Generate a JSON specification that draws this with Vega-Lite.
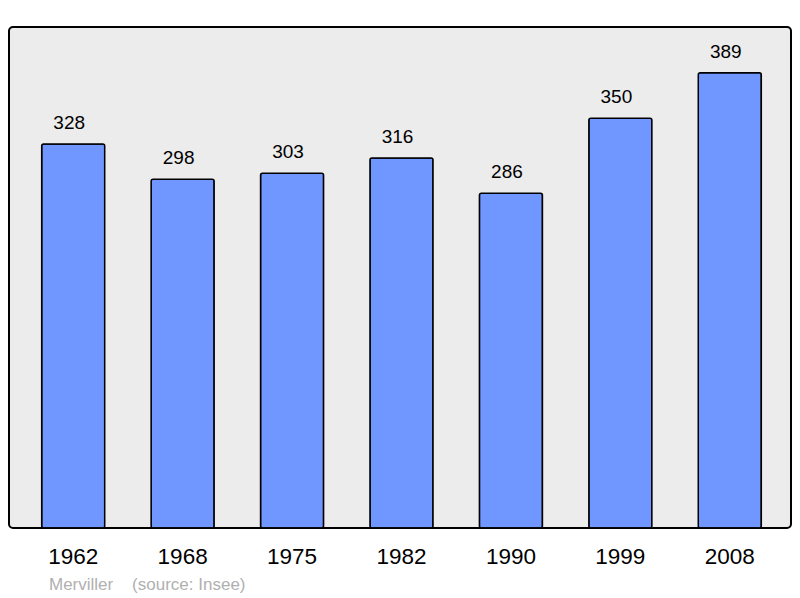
{
  "$schema": "https://vega.github.io/schema/vega-lite/v6.json",
  "autosize": {"type": "none"},
  "width": 782,
  "height": 501,
  "padding": {"left": 9, "top": 27, "right": 9, "bottom": 70},
  "background": "white",
  "config": {
    "font": "Liberation Sans",
    "view": {"fill": "#ececec", "stroke": "#000000", "strokeWidth": 2, "cornerRadius": 4}
  },
  "title": {
    "text": "Merviller\u00a0\u00a0\u00a0\u00a0(source: Insee)",
    "orient": "bottom",
    "anchor": "start",
    "dx": 40,
    "offset": 22,
    "fontSize": 17,
    "fontWeight": "normal",
    "color": "#b0b0b0",
    "font": "Liberation Sans",
    "baseline": "alphabetic"
  },
  "data": {
    "values": [
      {"year": "1962", "pop": 328},
      {"year": "1968", "pop": 298},
      {"year": "1975", "pop": 303},
      {"year": "1982", "pop": 316},
      {"year": "1990", "pop": 286},
      {"year": "1999", "pop": 350},
      {"year": "2008", "pop": 389}
    ]
  },
  "encoding": {
    "x": {
      "field": "year",
      "type": "nominal",
      "sort": null,
      "scale": {"paddingInner": 0.424, "paddingOuter": 0.285, "align": 0.524},
      "axis": {
        "title": null,
        "domain": false,
        "ticks": false,
        "labelAngle": 0,
        "labelFontSize": 22.5,
        "labelColor": "#000000",
        "labelBaseline": "alphabetic",
        "labelPadding": 35,
        "labelFont": "Liberation Sans"
      }
    },
    "y": {
      "field": "pop",
      "type": "quantitative",
      "scale": {"domain": [0, 428], "nice": false},
      "axis": null
    }
  },
  "layer": [
    {
      "mark": {"type": "bar", "fill": "#7096ff", "stroke": "#000000", "strokeWidth": 1.5, "cornerRadius": 2}
    },
    {
      "mark": {"type": "text", "fontSize": 19, "color": "#000000", "baseline": "alphabetic", "dy": -15, "dx": -4, "font": "Liberation Sans"},
      "encoding": {"text": {"field": "pop", "type": "quantitative"}}
    }
  ]
}
